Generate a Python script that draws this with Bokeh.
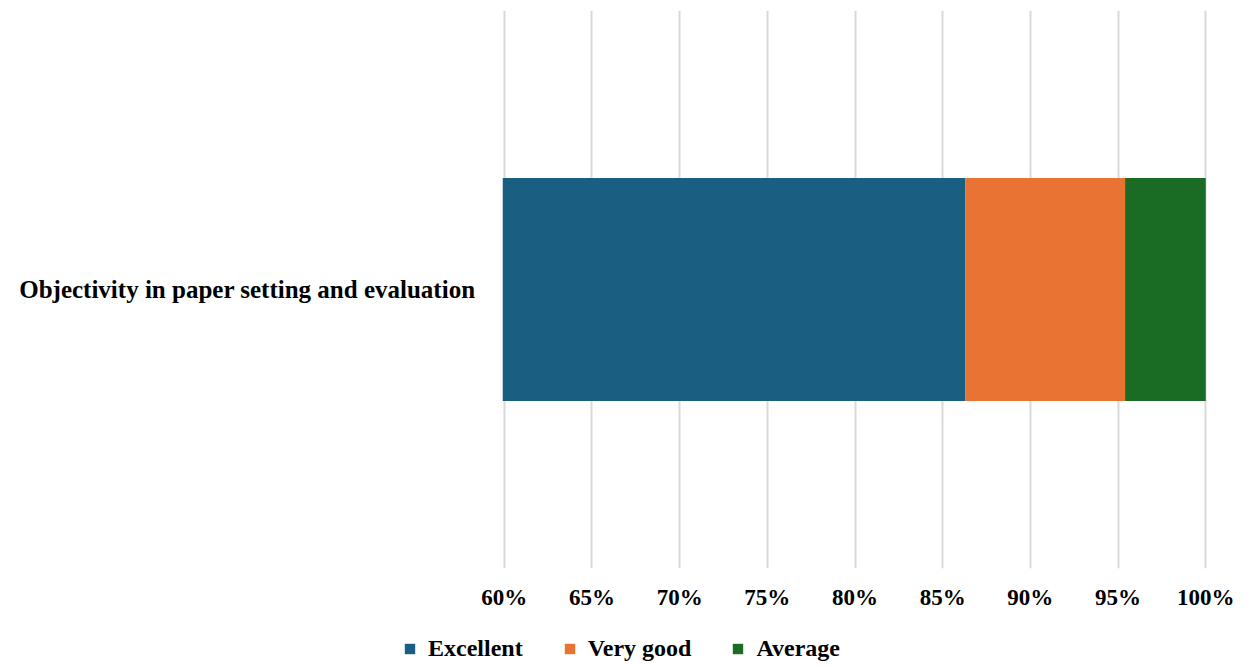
from bokeh.plotting import figure
from bokeh.layouts import column
from bokeh.models import FixedTicker, PrintfTickFormatter, Legend, LegendItem, Range1d, FactorRange, ColumnDataSource
from bokeh.embed import file_html
from bokeh.resources import INLINE

categories = ["Objectivity in paper setting and evaluation"]
series = ["Excellent", "Very good", "Average"]
excellent = [86.3]
very_good = [9.1]
average = [4.6]
colors = ["#1a5f82", "#e87332", "#1a6b23"]
x_ticks = [60, 65, 70, 75, 80, 85, 90, 95, 100]

FONT = "Liberation Serif"

source = ColumnDataSource(dict(cat=categories, Excellent=excellent, **{"Very good": very_good}, Average=average))

p = figure(width=1238, height=622, y_range=FactorRange(*categories), x_range=Range1d(59.9, 100.1),
           output_backend="svg", toolbar_location=None,
           min_border_left=502, min_border_right=31, min_border_top=10, min_border_bottom=54)
p.frame_align = False

renderers = p.hbar_stack(series, y="cat", height=0.4, color=colors, source=source, line_width=0)

p.outline_line_color = None
p.ygrid.grid_line_color = None
p.xgrid.grid_line_color = "#d9d9d9"
p.xgrid.grid_line_width = 2
p.xaxis.ticker = FixedTicker(ticks=x_ticks)
p.xaxis.formatter = PrintfTickFormatter(format="%d%%")
for ax in (p.xaxis, p.yaxis):
    ax.axis_line_color = None
    ax.major_tick_line_color = None
    ax.minor_tick_line_color = None
    ax.major_label_text_font = FONT
    ax.major_label_text_font_style = "bold"
    ax.major_label_text_color = "black"
p.xaxis.major_label_text_font_size = "23px"
p.yaxis.major_label_text_font_size = "25px"
p.xaxis.major_label_standoff = 10
p.yaxis.major_label_standoff = 21

# legend strip (its zero-height bars lie outside its visible range; only the legend shows)
q = figure(width=1238, height=44, y_range=FactorRange(*categories), x_range=Range1d(1000, 1100),
           output_backend="svg", toolbar_location=None, x_axis_type=None, y_axis_type=None,
           min_border_left=0, min_border_right=0, min_border_top=0, min_border_bottom=0)
q.frame_align = False
q.outline_line_color = None
q.grid.visible = False
leg_renderers = q.hbar_stack(series, y="cat", height=0, color=colors, source=source, line_width=0)

legend = Legend(items=[LegendItem(label=s, renderers=[r]) for s, r in zip(series, leg_renderers)],
                orientation="horizontal", location=(403, 4),
                glyph_width=13, glyph_height=13, label_standoff=12, spacing=40,
                padding=0, margin=0, border_line_color=None, background_fill_alpha=0,
                label_text_font=FONT, label_text_font_style="bold", label_text_font_size="24px",
                label_height=22, label_text_color="black")
q.add_layout(legend, "center")

layout = column(p, q, spacing=0)
open("out.html", "w").write(file_html(layout, INLINE))
